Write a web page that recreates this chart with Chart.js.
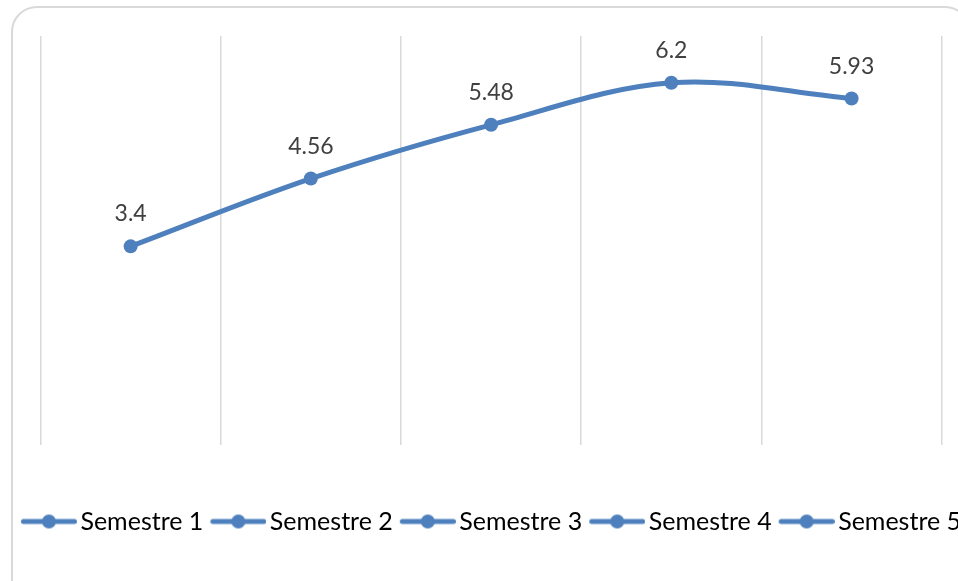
<!DOCTYPE html>
<html>
<head>
<meta charset="utf-8">
<script src="https://cdn.jsdelivr.net/npm/chart.js@4.4.1/dist/chart.umd.min.js"></script>
<style>
  html, body { margin: 0; padding: 0; background: #fff; overflow: hidden; }
  #frame { position: absolute; left: 11px; top: 6px; width: 956px; height: 600px; border: 2px solid #d9d9d9; border-radius: 26px; }
  #semesterChart { position: absolute; left: 0; top: 0; }
</style>
</head>
<body>
<div id="frame"></div>
<canvas id="semesterChart" width="982" height="592"></canvas>
<script>
// chart data
const categories = ['Semestre 1', 'Semestre 2', 'Semestre 3', 'Semestre 4', 'Semestre 5'];
const scores = [3.4, 4.56, 5.48, 6.2, 5.93];
const yMin = 0;
const yMax = 7;

const blue = '#4e80bd';

Chart.defaults.font.family = 'Lato, "Open Sans", sans-serif';

// legend symbol: short line with a dot in the middle
function legendSymbol() {
  const c = document.createElement('canvas');
  c.width = 65;
  c.height = 18;
  const g = c.getContext('2d');
  g.strokeStyle = blue;
  g.lineWidth = 5;
  g.lineCap = 'round';
  g.beginPath();
  g.moveTo(11.5, 9);
  g.lineTo(62.5, 9);
  g.stroke();
  g.fillStyle = blue;
  g.beginPath();
  g.arc(37, 9, 7, 0, Math.PI * 2);
  g.fill();
  return c;
}
const symbol = legendSymbol();

// value labels above each point
const valueLabels = {
  id: 'valueLabels',
  afterDatasetsDraw(chart) {
    const ctx = chart.ctx;
    const meta = chart.getDatasetMeta(0);
    ctx.save();
    ctx.font = '23px Lato, "Open Sans", sans-serif';
    ctx.fillStyle = '#404040';
    ctx.textAlign = 'center';
    ctx.textBaseline = 'alphabetic';
    meta.data.forEach((pt, i) => {
      ctx.fillText(String(chart.data.datasets[0].data[i]), pt.x, pt.y - 25);
    });
    ctx.restore();
  }
};

new Chart('semesterChart', {
  type: 'line',
  data: {
    labels: categories,
    datasets: [{
      data: scores,
      borderColor: blue,
      backgroundColor: blue,
      borderWidth: 5,
      pointRadius: 7,
      pointBorderWidth: 0,
      pointBackgroundColor: blue,
      tension: 0.35,
      fill: false
    }]
  },
  options: {
    responsive: false,
    animation: false,
    layout: { padding: { top: 36, bottom: 48, left: 0, right: 0 } },
    scales: {
      x: {
        offset: true,
        grid: { offset: true, color: '#d9d9d9', lineWidth: 1.5, drawTicks: false },
        border: { display: false },
        ticks: { display: false },
        afterFit(s) { s.height = 57; }
      },
      y: {
        min: yMin,
        max: yMax,
        grid: { display: false },
        border: { display: false },
        ticks: { display: false },
        afterFit(s) { s.width = 40.5; }
      },
      y2: {
        type: 'linear',
        position: 'right',
        grid: { display: false },
        border: { display: false },
        ticks: { display: false },
        afterFit(s) { s.width = 40.3; }
      }
    },
    plugins: {
      tooltip: { enabled: false },
      legend: {
        position: 'bottom',
        labels: {
          usePointStyle: true,
          pointStyleWidth: 47,
          padding: 7,
          color: '#111',
          font: { size: 25 },
          generateLabels: () => categories.map((name, i) => ({
            text: name,
            pointStyle: symbol,
            fillStyle: blue,
            strokeStyle: blue,
            lineWidth: 0,
            hidden: false,
            datasetIndex: 0,
            index: i
          }))
        }
      }
    }
  },
  plugins: [valueLabels]
});
</script>
</body>
</html>
